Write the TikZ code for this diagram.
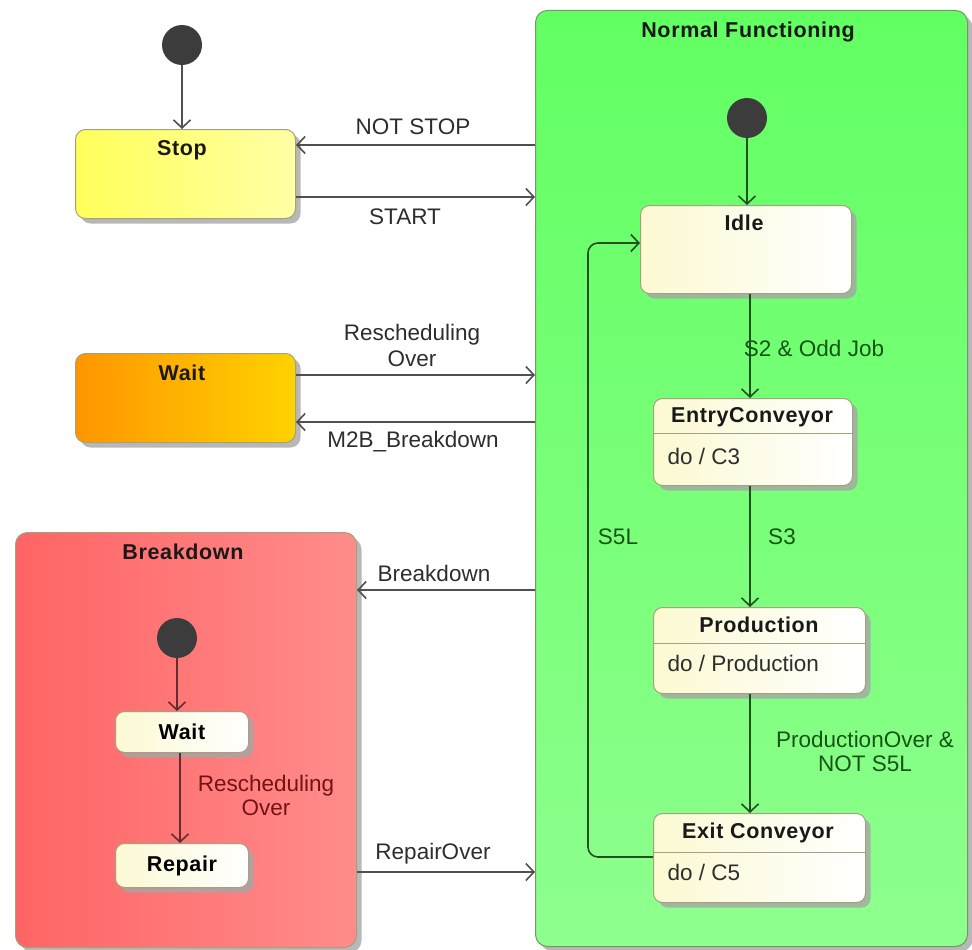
\documentclass[tikz,border=0pt]{standalone}
\usepackage{fontspec}
\setmainfont{Liberation Sans}
\usetikzlibrary{arrows.meta,shadows}
\definecolor{greentop}{RGB}{98,255,98}
\definecolor{greenbot}{RGB}{142,255,142}
\definecolor{greenborder}{RGB}{120,150,100}
\definecolor{yelL}{RGB}{255,255,90}
\definecolor{yelR}{RGB}{255,255,165}
\definecolor{orL}{RGB}{255,150,0}
\definecolor{orR}{RGB}{255,210,0}
\definecolor{redL}{RGB}{255,100,100}
\definecolor{redR}{RGB}{255,140,140}
\definecolor{creamL}{RGB}{252,249,210}
\definecolor{boxborder}{RGB}{165,160,125}
\definecolor{initcol}{RGB}{60,60,60}
\definecolor{linegray}{RGB}{80,80,80}
\definecolor{linegreen}{RGB}{35,80,35}
\definecolor{linered}{RGB}{100,45,45}
\definecolor{txtgray}{RGB}{45,45,45}
\definecolor{txtgreen}{RGB}{20,85,20}
\definecolor{txtred}{RGB}{115,20,20}
\newcommand{\ttlfont}{\fontsize{21.5}{24}\selectfont\bfseries\addfontfeature{LetterSpace=3}}
\tikzset{
  boxshadow/.style={drop shadow={shadow xshift=5pt,shadow yshift=-5pt,fill=black!35,opacity=.8}},
  bigbox/.style={draw=#1, line width=1pt, rounded corners=12pt, anchor=north west, inner sep=0pt, boxshadow},
  stbox/.style={draw=boxborder, line width=1pt, rounded corners=9pt, anchor=north west, inner sep=0pt,
     left color=creamL, right color=white, boxshadow},
  ttl/.style={font=\ttlfont, text=black!90},
  body/.style={anchor=west, text=txtgray},
  initst/.style={circle, fill=initcol, minimum size=40pt, inner sep=0pt},
  conn/.style={->, line width=1.6pt, draw=#1},
  lbl/.style={text=#1, align=center},
}
\begin{document}
\begin{tikzpicture}[x=1pt,y=-1pt, font=\fontsize{22.5}{26}\selectfont,
  >={Straight Barb[length=8pt,width=17pt]}]
\useasboundingbox (0,0) rectangle (972,950);

% big containers
\node[bigbox=greenborder, top color=greentop, bottom color=greenbot,
      minimum width=432pt, minimum height=936pt] (nf) at (535,10) {};
\node[ttl] (nft) at (748,32) {Normal Functioning};

\node[bigbox=boxborder, left color=redL, right color=redR,
      minimum width=341pt, minimum height=415pt] (bd) at (15,532) {};
\node[ttl] (bdt) at (183,552) {Breakdown};

% top-level states
\node[bigbox=boxborder, left color=yelL, right color=yelR, rounded corners=10pt,
      minimum width=220pt, minimum height=89pt] (stop) at (75,129) {};
\node[ttl] (stopt) at (182,150) {Stop};

\node[bigbox=boxborder, left color=orL, right color=orR, rounded corners=10pt,
      minimum width=220pt, minimum height=89pt] (wait) at (75,353) {};
\node[ttl] (waitt) at (182,373) {Wait};

% initial states
\node[initst] (i1) at (182,45) {};
\node[initst] (i2) at (747,118) {};
\node[initst] (i3) at (177,638) {};

% inner states of Normal Functioning
\node[stbox, minimum width=211pt, minimum height=88pt] (idle) at (640,205) {};
\node[ttl] (idlet) at (744,223) {Idle};

\node[stbox, minimum width=199pt, minimum height=87pt] (entry) at (653,398) {};
\node[ttl] (entryt) at (752,417) {EntryConveyor};
\draw[boxborder, line width=1pt] (entry.west |- 0,433) -- (entry.east |- 0,433);
\node[body] (entryb) at (664,456) {do / C3};

\node[stbox, minimum width=212pt, minimum height=86pt] (prod) at (653,607) {};
\node[ttl] (prodt) at (759,625) {Production};
\draw[boxborder, line width=1pt] (prod.west |- 0,643) -- (prod.east |- 0,643);
\node[body] (prodb) at (664,663) {do / Production};

\node[stbox, minimum width=212pt, minimum height=89pt] (exit) at (653,813) {};
\node[ttl] (exitt) at (758,833) {Exit Conveyor};
\draw[boxborder, line width=1pt] (exit.west |- 0,852) -- (exit.east |- 0,852);
\node[body] (exitb) at (664,872) {do / C5};

% inner states of Breakdown
\node[stbox, minimum width=133pt, minimum height=41pt, font=\ttlfont] (bwait) at (115,711) {Wait};
\node[stbox, minimum width=133pt, minimum height=44pt, font=\ttlfont] (rep) at (115,843) {Repair};

% connectors, top level
\draw[conn=linegray] (i1) -- (i1 |- stop.north);
\draw[conn=linegray] (nf.west |- 0,145) -- (stop.east |- 0,145);
\node[lbl=txtgray] (l1) at (413,127) {NOT STOP};
\draw[conn=linegray] (stop.east |- 0,197) -- (nf.west |- 0,197);
\node[lbl=txtgray] (l2) at (405,217) {START};
\draw[conn=linegray] (wait.east |- 0,375) -- (nf.west |- 0,375);
\node[lbl=txtgray, font=\fontsize{22.5}{26}\selectfont] (l3) at (412,345) {Rescheduling\\Over};
\draw[conn=linegray] (nf.west |- 0,422) -- (wait.east |- 0,422);
\node[lbl=txtgray] (l4) at (413,442) {M2B\_Breakdown};
\draw[conn=linegray] (nf.west |- 0,590) -- (bd.east |- 0,590);
\node[lbl=txtgray] (l5) at (434,573) {Breakdown};
\draw[conn=linegray] (bd.east |- 0,872) -- (nf.west |- 0,872);
\node[lbl=txtgray] (l6) at (433,854) {RepairOver};

% connectors inside Normal Functioning
\draw[conn=linegreen] (i2) -- (i2 |- idle.north);
\draw[conn=linegreen] (idle.south -| 750,0) -- (entry.north -| 750,0);
\node[lbl=txtgreen] (l7) at (814,348) {S2 \& Odd Job};
\draw[conn=linegreen] (entry.south -| 750,0) -- (prod.north -| 750,0);
\node[lbl=txtgreen] (l8) at (782,537) {S3};
\draw[conn=linegreen] (prod.south -| 750,0) -- (exit.north -| 750,0);
\node[lbl=txtgreen, font=\fontsize{22.5}{24}\selectfont] (l9) at (865,751) {ProductionOver \&\\NOT S5L};
\draw[conn=linegreen, rounded corners=10pt] (exit.west |- 0,857) -- (588,857) -- (588,243) -- (idle.west |- 0,243);
\node[lbl=txtgreen] (l10) at (618,537) {S5L};

% connectors inside Breakdown
\draw[conn=linered] (i3) -- (i3 |- bwait.north);
\draw[conn=linered] (bwait.south -| 180,0) -- (rep.north -| 180,0);
\node[lbl=txtred, font=\fontsize{22.5}{24}\selectfont] (l11) at (266,795) {Rescheduling\\Over};
\end{tikzpicture}
\end{document}
